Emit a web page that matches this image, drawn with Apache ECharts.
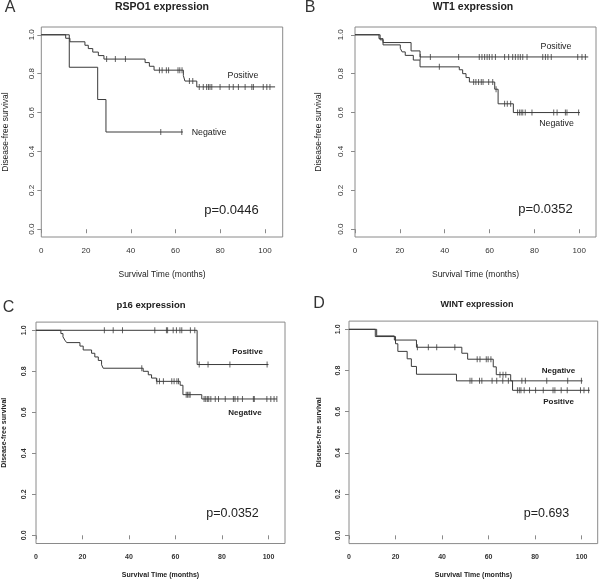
<!DOCTYPE html>
<html><head><meta charset="utf-8">
<script src="https://cdn.jsdelivr.net/npm/echarts@6/dist/echarts.min.js"></script>
<style>html,body{margin:0;padding:0;background:#fff}#c{width:600px;height:581px}</style>
</head><body><div id="c"></div>
<script>
// ---------- text / ticks ----------
const xTickValues = [0, 20, 40, 60, 80, 100];
const yTickValues = [0, 0.2, 0.4, 0.6, 0.8, 1.0];
const panelLetters = ['A', 'B', 'C', 'D'];
const panelTitles = ['RSPO1 expression', 'WT1 expression', 'p16 expression', 'WINT expression'];
const pValues = ['p=0.0446', 'p=0.0352', 'p=0.0352', 'p=0.693'];
const xAxisTitle = 'Survival Time (months)';
const yAxisTitle = 'Disease-free survival';
const groupNames = ['Positive', 'Negative'];

// ---------- Panel A : RSPO1 ----------
const aPosTimes = [10.9, 12.8, 19.5, 21.0, 23.0, 25.5, 28.0, 46.4, 48.3, 50.4, 63.5, 64.2, 69.5];
const aPosSurv  = [0.982, 0.964, 0.946, 0.929, 0.911, 0.893, 0.875, 0.857, 0.838, 0.818, 0.79, 0.762, 0.732];
const aPosCensor = [29.2, 33.1, 37.6, 52.8, 54.0, 55.9, 56.9, 61.1, 61.9, 62.9, 66.2, 67.7, 70.6, 72.4, 73.9, 74.7, 75.4, 76.2, 79.9, 84.0, 85.8, 88.1, 91.1, 94.1, 94.8, 99.2, 100.8, 102.2];
const aPosEnd = 104.5;
const aNegTimes = [12.5, 25.2, 28.9];
const aNegSurv  = [0.833, 0.667, 0.5];
const aNegCensor = [53.4, 62.8];
const aNegEnd = 63.3;

// ---------- Panel B : WT1 ----------
const bPosTimes = [10.7, 12.5, 25.0, 29.0];
const bPosSurv  = [0.98, 0.96, 0.917, 0.886];
const bPosCensor = [29.1, 33.6, 46.2, 55.4, 56.6, 57.8, 58.9, 59.9, 61.1, 62.6, 66.7, 68.5, 70.3, 71.5, 72.7, 73.7, 74.8, 76.7, 83.7, 84.9, 86.0, 87.5, 99.3, 101.2, 102.7];
const bPosEnd = 104.0;
const bNegTimes = [11.2, 12.5, 20.2, 21.0, 22.4, 26.0, 29.0, 46.5, 48.0, 49.5, 51.0, 62.3, 63.8, 70.6];
const bNegSurv  = [0.974, 0.948, 0.93, 0.912, 0.894, 0.87, 0.835, 0.82, 0.80, 0.78, 0.757, 0.72, 0.645, 0.60];
const bNegCensor = [37.6, 52.9, 53.9, 55.1, 56.3, 57.1, 59.6, 61.4, 62.9, 66.7, 67.9, 69.4, 72.5, 73.4, 74.1, 74.8, 75.9, 78.9, 88.6, 90.1, 93.8, 94.5, 99.7];
const bNegEnd = 100.3;

// ---------- Panel C : p16 ----------
const cPosTimes = [69.3];
const cPosSurv  = [0.833];
const cPosCensor = [29.4, 33.2, 37.2, 51.1, 56.1, 56.6, 59.0, 60.4, 61.9, 62.7, 66.4, 68.3, 70.2, 74.0, 83.4, 99.4];
const cPosEnd = 100.0;
const cNegTimes = [10.7, 11.6, 12.4, 13.2, 18.9, 20.3, 23.9, 25.3, 26.8, 28.2, 28.9, 46.1, 48.3, 49.7, 51.8, 62.0, 63.2, 71.3];
const cNegSurv  = [0.984, 0.968, 0.952, 0.94, 0.923, 0.904, 0.888, 0.87, 0.853, 0.832, 0.815, 0.80, 0.783, 0.767, 0.751, 0.732, 0.686, 0.665];
const cNegCensor = [45.5, 52.0, 53.1, 54.8, 58.4, 59.4, 60.6, 61.3, 64.6, 65.2, 65.8, 66.3, 72.3, 73.0, 73.7, 74.3, 75.2, 77.1, 78.5, 81.4, 84.9, 85.6, 86.8, 88.8, 93.5, 93.9, 99.3, 101.0, 102.4, 103.6];
const cNegEnd = 103.6;

// ---------- Panel D : WINT ----------
const dPosTimes = [11.3, 20.0, 21.0, 25.0, 26.8, 29.0, 46.2, 70.3];
const dPosSurv  = [0.965, 0.93, 0.893, 0.857, 0.82, 0.782, 0.75, 0.704];
const dPosCensor = [52.0, 52.8, 56.1, 57.1, 61.5, 63.5, 66.1, 68.5, 72.4, 73.2, 73.9, 75.3, 77.6, 80.2, 83.5, 87.7, 88.5, 91.2, 93.8, 99.5, 101.0, 103.0];
const dPosEnd = 103.5;
const dNegTimes = [11.9, 19.5, 29.0, 48.5, 51.0, 62.0, 63.3, 69.5];
const dNegSurv  = [0.968, 0.948, 0.913, 0.884, 0.855, 0.818, 0.78, 0.75];
const dNegCensor = [29.4, 34.1, 37.7, 45.5, 55.1, 56.3, 59.0, 59.8, 61.0, 64.9, 66.2, 67.4, 74.3, 75.8, 85.0, 94.0, 99.9];
const dNegEnd = 100.4;

// ---------- layout (positions & styles only) ----------
const FONT = 'Liberation Sans, Arial, sans-serif';
const LINE = '#3a3a3a';
const BOX = '#8a8a8a';
const TXT = '#333';
const layouts = [
  {left: 41.3, top: 27, width: 241.4, height: 210, xMax: 107.9, tickFs: 8, tickW: 'normal', nameFs: 8.5, nameW: 'normal',
   xLabMargin: 10, xNameGap: 33, yLabMargin: 6, yNameGap: 31,
   letter: [10, 8], title: [162, 7], titleFs: 10.5, pos: [243, 75.5], neg: [209, 132.5], grpFs: 8.8, grpW: 'normal', p: [231.5, 210], pFs: 13},
  {left: 355, top: 27, width: 241, height: 210, xMax: 107.45, tickFs: 8, tickW: 'normal', nameFs: 8.5, nameW: 'normal',
   xLabMargin: 10, xNameGap: 33, yLabMargin: 10, yNameGap: 32,
   letter: [310, 8], title: [473, 7], titleFs: 10.5, pos: [556, 47], neg: [556.5, 123.5], grpFs: 8.8, grpW: 'normal', p: [545.5, 209.5], pFs: 13},
  {left: 35.7, top: 322.1, width: 249.3, height: 221.4, xMax: 107.1, tickFs: 7, tickW: 'bold', nameFs: 7, nameW: 'bold',
   xLabMargin: 10, xNameGap: 28, yLabMargin: 8, yNameGap: 28,
   letter: [8.5, 307.5], title: [151, 305], titleFs: 9.5, pos: [247.5, 352], neg: [245, 412.5], grpFs: 8, grpW: 'bold', p: [232.5, 514], pFs: 12.5},
  {left: 349, top: 321.1, width: 248.7, height: 222.5, xMax: 106.9, tickFs: 7, tickW: 'bold', nameFs: 7, nameW: 'bold',
   xLabMargin: 10, xNameGap: 28, yLabMargin: 7, yNameGap: 26.5,
   letter: [319, 303.5], title: [477, 305], titleFs: 9, pos: [558.5, 402], neg: [558.5, 371], grpFs: 8, grpW: 'bold', p: [546.5, 514], pFs: 12.5}
];

const curves = [
  [[aPosTimes, aPosSurv, aPosCensor, aPosEnd], [aNegTimes, aNegSurv, aNegCensor, aNegEnd]],
  [[bPosTimes, bPosSurv, bPosCensor, bPosEnd], [bNegTimes, bNegSurv, bNegCensor, bNegEnd]],
  [[cPosTimes, cPosSurv, cPosCensor, cPosEnd], [cNegTimes, cNegSurv, cNegCensor, cNegEnd]],
  [[dPosTimes, dPosSurv, dPosCensor, dPosEnd], [dNegTimes, dNegSurv, dNegCensor, dNegEnd]]
];

function stepData(times, surv, end) {
  const d = [[0, 1]];
  times.forEach((t, i) => d.push([t, surv[i]]));
  d.push([end, surv[surv.length - 1]]);
  return d;
}
function survAt(times, surv, t) {
  let s = 1;
  for (let i = 0; i < times.length; i++) { if (times[i] <= t) s = surv[i]; }
  return s;
}

const grid = [], xAxis = [], yAxis = [], series = [], graphic = [];
layouts.forEach((L, p) => {
  grid.push({left: L.left, top: L.top, width: L.width, height: L.height, show: true,
    borderColor: BOX, borderWidth: 1, backgroundColor: 'transparent', containLabel: false});
  xAxis.push({
    gridIndex: p, type: 'value', min: 0, max: L.xMax,
    axisLine: {show: false},
    axisTick: {show: true, length: 4, customValues: xTickValues, lineStyle: {color: BOX}},
    axisLabel: {customValues: xTickValues, margin: L.xLabMargin, fontSize: L.tickFs, fontWeight: L.tickW, color: TXT, fontFamily: FONT},
    splitLine: {show: false},
    name: xAxisTitle, nameLocation: 'middle', nameGap: L.xNameGap,
    nameTextStyle: {fontSize: L.nameFs, fontWeight: L.nameW, color: '#222', fontFamily: FONT}
  });
  yAxis.push({
    gridIndex: p, type: 'value', min: -0.04, max: 1.04,
    axisLine: {show: false},
    axisTick: {show: true, length: 4, customValues: yTickValues, lineStyle: {color: BOX}},
    axisLabel: {customValues: yTickValues, rotate: 90, margin: L.yLabMargin, fontSize: L.tickFs, fontWeight: L.tickW, color: TXT, fontFamily: FONT,
      formatter: v => v.toFixed(1)},
    splitLine: {show: false},
    name: yAxisTitle, nameLocation: 'middle', nameGap: L.yNameGap, nameRotate: 90,
    nameTextStyle: {fontSize: L.nameFs, fontWeight: L.nameW, color: '#222', fontFamily: FONT}
  });
  curves[p].forEach((c, g) => {
    const [times, surv, censor, end] = c;
    series.push({
      type: 'line', xAxisIndex: p, yAxisIndex: p, step: 'end', name: groupNames[g],
      data: stepData(times, surv, end), symbol: 'none', silent: true,
      lineStyle: {color: LINE, width: 1}, animation: false
    });
    series.push({
      type: 'scatter', xAxisIndex: p, yAxisIndex: p, name: groupNames[g] + ' censored',
      data: censor.map(t => [t, survAt(times, surv, t)]),
      symbol: 'rect', symbolSize: [1, 6], itemStyle: {color: LINE}, silent: true, animation: false
    });
  });
  const txt = (pt, text, fs, fw, color) => ({
    type: 'text', x: pt[0], y: pt[1], silent: true,
    style: {text: text, fontSize: fs, fontWeight: fw, fontFamily: FONT, fill: color, align: 'center', verticalAlign: 'middle'}
  });
  graphic.push(txt(L.letter, panelLetters[p], 16, 'normal', '#333'));
  graphic.push(txt(L.title, panelTitles[p], L.titleFs, 'bold', '#222'));
  graphic.push(txt(L.pos, groupNames[0], L.grpFs, L.grpW, '#222'));
  graphic.push(txt(L.neg, groupNames[1], L.grpFs, L.grpW, '#222'));
  graphic.push(txt(L.p, pValues[p], L.pFs, 'normal', '#222'));
});

const chart = echarts.init(document.getElementById('c'), null, {renderer: 'canvas'});
chart.setOption({animation: false, backgroundColor: '#fff', grid, xAxis, yAxis, series, graphic});
</script></body></html>
